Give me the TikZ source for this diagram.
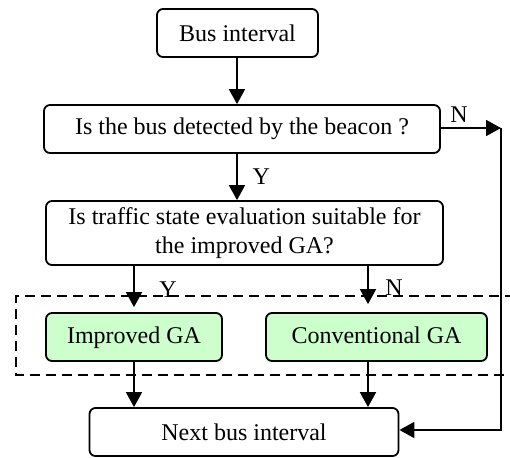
\documentclass[tikz,border=0pt]{standalone}
\usepackage{fontspec}
\setmainfont{Liberation Serif}
\usetikzlibrary{arrows.meta}
\definecolor{gagreen}{RGB}{204,255,204}

\begin{document}
\begin{tikzpicture}[x=0.5pt,y=-0.5pt,line width=0.9pt,
  box/.style={draw,rounded corners=3pt,align=center,inner sep=0pt,font=\fontsize{12}{14.5}\selectfont},
  gabox/.style={box,fill=gagreen,text height=8.5pt,text depth=2.5pt},
  lbl/.style={font=\fontsize{12}{14}\selectfont},
  arr/.style={-{Triangle[length=7.5pt,width=8pt]}}]
  \useasboundingbox (0,0) rectangle (510,457);
  \draw[dashed,dash pattern=on 5pt off 3pt,line width=0.7pt] (515,296) -- (16,296) -- (16,375) -- (515,375);
  \node[box,minimum width=80.5pt,minimum height=24pt] (start) at (237.5,33) {Bus interval};
  \node[box,minimum width=198pt,minimum height=24pt] (detect) at (242,129) {Is the bus detected by the beacon ?};
  \node[box,minimum width=198.5pt,minimum height=32pt] (suit) at (244.5,233) {Is traffic state evaluation suitable for\\the improved GA?};
  \node[gabox,minimum width=88pt,minimum height=24pt] (impr) at (134,337) {Improved GA};
  \node[gabox,minimum width=110.5pt,minimum height=24pt] (conv) at (376.5,337) {Conventional GA};
  \node[box,minimum width=154.5pt,minimum height=24pt] (next) at (244,432) {Next bus interval};
  \coordinate (turn) at (501,128);
  \draw[arr] (start.south -| 237,0) -- (detect.north -| 237,0);
  \draw[arr] (detect.south -| 237,0) -- node[right=4pt,lbl] {Y} (suit.north -| 237,0);
  \draw[arr] (detect.east |- turn) -- node[above=-1pt,pos=0.3,lbl] {N} (turn);
  \draw[arr] (turn) -- (turn |- 0,430) -- (next.east |- 0,430);
  \draw[arr,shorten >=2.5pt] (suit.south -| impr.north) -- (impr.north);
  \draw[arr,shorten >=4pt] ([xshift=-4.25pt]suit.south -| conv.north) -- ([xshift=-4.25pt]conv.north);
  \draw[arr] (impr.south) -- (impr.south |- next.north);
  \draw[arr] ([xshift=-4.25pt]conv.south) -- ([xshift=-4.25pt]conv.south |- next.north);
  \node[lbl] (yes) at (168,290) {Y};
  \node[lbl] (no) at (394,288) {N};
\end{tikzpicture}
\end{document}
